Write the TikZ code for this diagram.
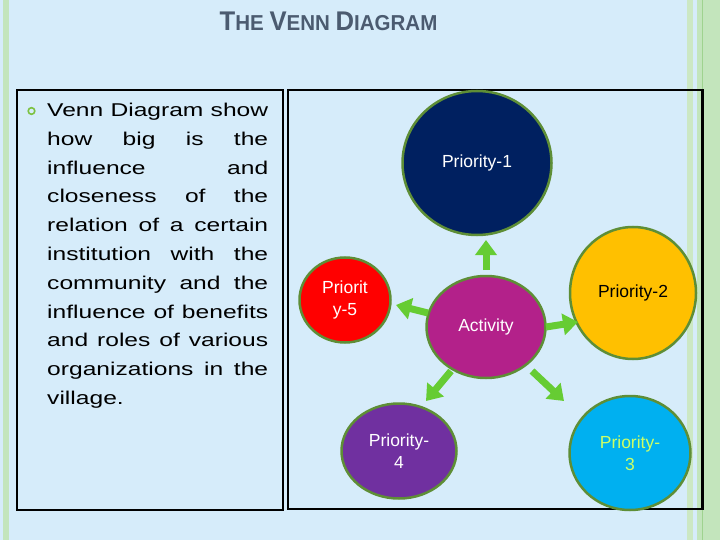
\documentclass[tikz,border=0pt]{standalone}
\usepackage{fontspec}
\setmainfont{Liberation Sans}
\newfontfamily\bodyfont[FakeStretch=1.33]{Liberation Sans}
\newfontfamily\titlefont[FakeStretch=0.95]{Liberation Sans}
\usetikzlibrary{shapes.geometric,arrows.meta}
\definecolor{bgblue}{HTML}{D6ECFA}
\definecolor{stripe}{HTML}{C3E5BC}
\definecolor{stripelight}{HTML}{CCE8C4}
\definecolor{stripedark}{HTML}{9FD38F}
\definecolor{titlecol}{HTML}{4B5B70}
\definecolor{ringgreen}{HTML}{7DC242}
\definecolor{bordergreen}{HTML}{5E8E36}
\definecolor{arrowgreen}{HTML}{66CC33}
\definecolor{pnavy}{HTML}{002060}
\definecolor{pyellow}{HTML}{FFC000}
\definecolor{pred}{HTML}{FF0000}
\definecolor{pmagenta}{HTML}{B3218A}
\definecolor{ppurple}{HTML}{7030A0}
\definecolor{pcyan}{HTML}{00B0F0}
\definecolor{plime}{HTML}{CCFF66}
\newcommand\titlecap[1]{{\fontsize{27}{27}\selectfont #1}}
\begin{document}
\begin{tikzpicture}[x=1pt,y=-1pt,
  bubble/.style={ellipse, draw=bordergreen, line width=2.5pt, inner sep=0pt,
    align=center, font=\fontsize{17.5}{22}\selectfont},
  bodyline/.style={anchor=base west, inner sep=0pt, font=\bodyfont\fontsize{18.5}{28.8}\selectfont},
  frame/.style={draw=black, line width=2.2pt},
  arr/.style={draw=arrowgreen, line width=7pt, -{Triangle[width=21pt,length=15pt]}}]
\useasboundingbox (0,0) rectangle (720,540);
\fill[bgblue] (0,0) rectangle (720,540);
% side stripes
\fill[stripe] (3,0) rectangle (9,540);
\fill[stripelight] (687,0) rectangle (693,540);
\fill[stripe] (697,0) rectangle (720,540);
\draw[stripedark, line width=1pt] (702.5,0) -- (702.5,540);
% title
\node[anchor=base, inner sep=0pt, text=titlecol, font=\titlefont\bfseries\fontsize{21.6}{27}\selectfont] (title) at (328.5,31)
  {\titlecap{T}HE \titlecap{V}ENN \titlecap{D}IAGRAM};
% frames
\draw[frame] (17,90) rectangle (283,510);
\draw[frame] (288,90) rectangle (702.5,509);
% bullet
\draw[ringgreen, line width=1.6pt] (31.5,111) circle (3.3);
% body text
\foreach \t [count=\i] in {Venn Diagram show, how big is the, influence and, closeness of the,
  relation of a certain, institution with the, community and the, influence of benefits,
  and roles of various, organizations in the}
  {\node[bodyline] (l\i) at (47,{116.5+(\i-1)*28.8}) {\makebox[221pt][s]{\t}};}
\node[bodyline] (l11) at (47,{116.5+10*28.8}) {village.};
% bubbles
\node[bubble, fill=pnavy, text=white, minimum width=149pt, minimum height=144pt] (p1) at (477,163) {Priority-1};
\node[bubble, fill=pyellow, text=black, minimum width=126pt, minimum height=132pt] (p2) at (633,293) {Priority-2};
\node[bubble, fill=pred, text=white, minimum width=91pt, minimum height=85pt] (p5) at (345,300) {Priorit\\y-5};
\node[bubble, fill=pmagenta, text=white, minimum width=119pt, minimum height=102pt] (act) at (486,327) {Activity};
\node[bubble, fill=ppurple, text=white, minimum width=115pt, minimum height=95pt] (p4) at (399,451) {Priority-\\4};
\node[bubble, fill=pcyan, text=plime, minimum width=121pt, minimum height=114pt] (p3) at (630,453) {Priority-\\3};
% arrow ends
\coordinate (u0) at (486,270); \coordinate (u1) at (486,240);
\coordinate (w0) at (428,313); \coordinate (w1) at (396,305);
\coordinate (e0) at (546,327); \coordinate (e1) at (578,322);
\coordinate (sw0) at (451,371); \coordinate (sw1) at (426,401);
\coordinate (se0) at (532,371); \coordinate (se1) at (564,401);
\draw[arr] (u0) -- (u1);
\draw[arr] (w0) -- (w1);
\draw[arr] (e0) -- (e1);
\draw[arr] (sw0) -- (sw1);
\draw[arr] (se0) -- (se1);
\end{tikzpicture}
\end{document}
